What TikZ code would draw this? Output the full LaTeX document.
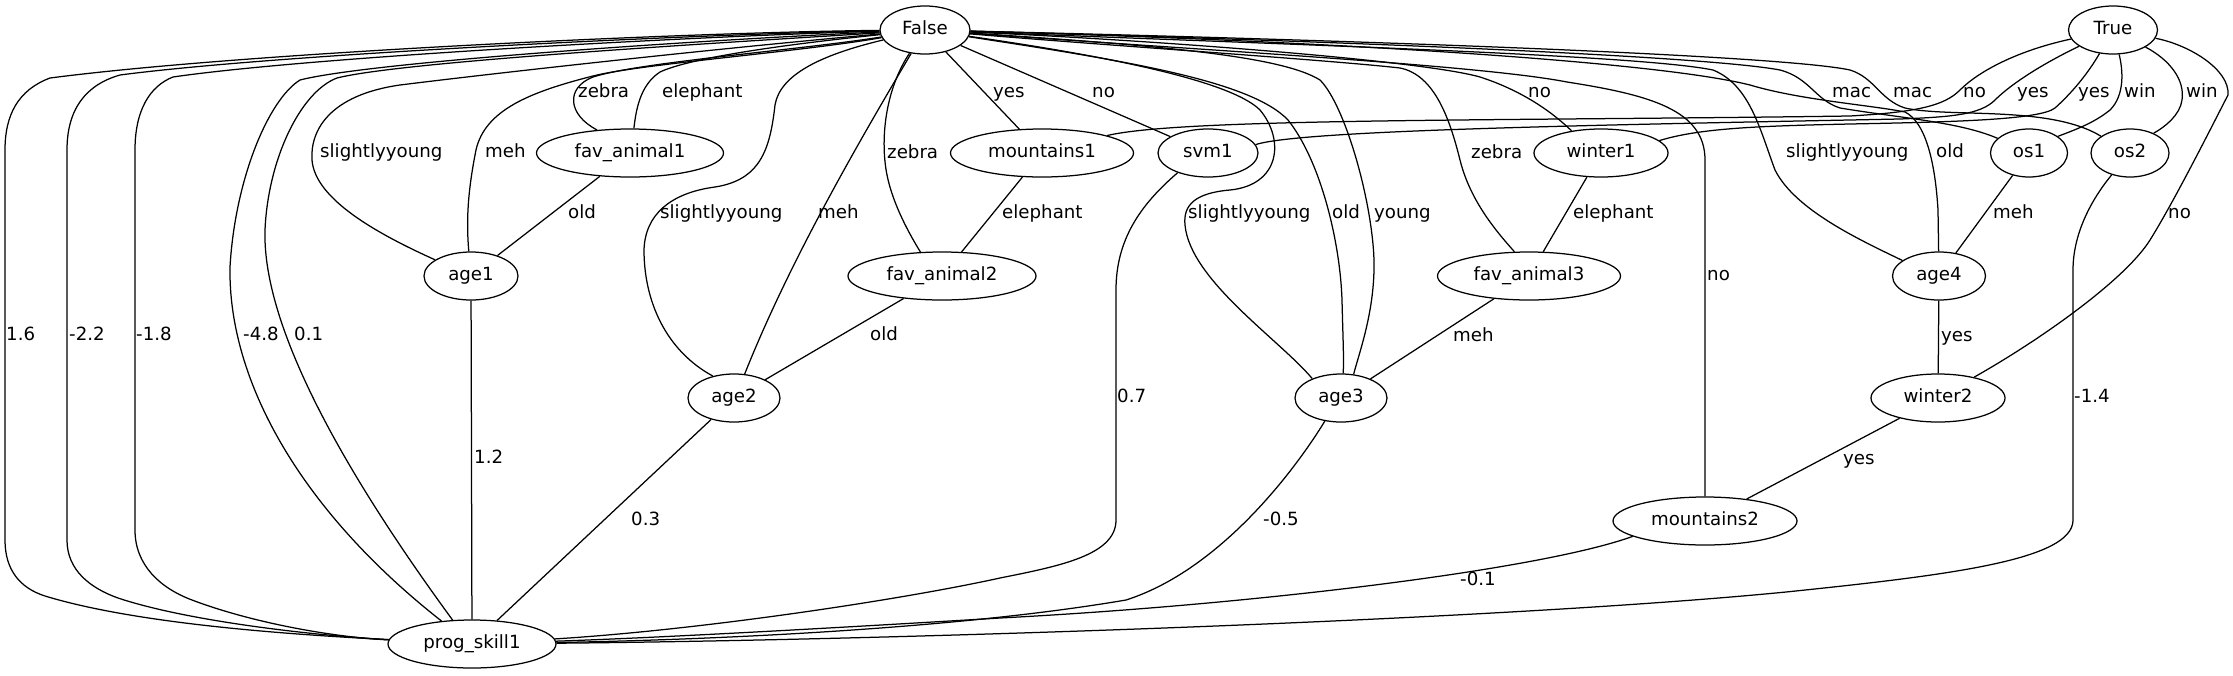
\documentclass[tikz,border=0pt]{standalone}
\usepackage{fontspec}
\setmainfont{DejaVu Sans}
\usetikzlibrary{shapes.geometric}
\tikzset{
  nd/.style={ellipse, draw, line width=1.25pt, minimum height=48pt, inner sep=0pt,
    font=\fontsize{18.2}{22}\selectfont, text height=13.5pt, text depth=4pt},
  lb/.style={anchor=west, inner sep=0pt, font=\fontsize{18.2}{22}\selectfont,
    text height=13.5pt, text depth=4pt},
  ed/.style={line width=1.25pt}
}
\begin{document}
\begin{tikzpicture}[x=1pt,y=-1pt]
\fill[white] (0,0) rectangle (2233,675);
\useasboundingbox (0,0) rectangle (2233,675);
% nodes
\node[nd, minimum width=90pt]  (F)   at (925,30)  {False};
\node[nd, minimum width=89pt]  (T)   at (2113,30) {True};
\node[nd, minimum width=187pt] (fa1) at (630,153) {fav\_animal1};
\node[nd, minimum width=183pt] (m1)  at (1042,153) {mountains1};
\node[nd, minimum width=100pt] (svm) at (1208,153) {svm1};
\node[nd, minimum width=134pt] (w1)  at (1601,153) {winter1};
\node[nd, minimum width=77pt]  (os1) at (2029,153) {os1};
\node[nd, minimum width=78pt]  (os2) at (2130,153) {os2};
\node[nd, minimum width=94pt]  (a1)  at (471,276) {age1};
\node[nd, minimum width=188pt] (fa2) at (942,276) {fav\_animal2};
\node[nd, minimum width=183pt] (fa3) at (1529,276) {fav\_animal3};
\node[nd, minimum width=93pt]  (a4)  at (1939,276) {age4};
\node[nd, minimum width=92pt]  (a2)  at (734,398) {age2};
\node[nd, minimum width=92pt]  (a3)  at (1341,398) {age3};
\node[nd, minimum width=134pt] (w2)  at (1938,398) {winter2};
\node[nd, minimum width=184pt] (m2)  at (1705,521) {mountains2};
\node[nd, minimum width=168pt] (ps)  at (472,644) {prog\_skill1};
% False -> prog_skill1
\draw[ed] (F) .. controls (700,32) and (250,52) .. (50,78) .. controls (18,90) and (5,115) .. (5,150) -- (5,540) .. controls (5,570) and (20,588) .. (45,596) .. controls (140,625) and (300,635) .. (ps);
\draw[ed] (F) .. controls (700,34) and (280,54) .. (120,75) .. controls (85,85) and (67,110) .. (67,150) -- (67,540) .. controls (67,570) and (90,588) .. (118,598) .. controls (190,622) and (320,636) .. (ps);
\draw[ed] (F) .. controls (700,36) and (310,57) .. (173,77) .. controls (150,86) and (135,110) .. (135,150) -- (135,530) .. controls (135,565) and (160,588) .. (192,600) .. controls (250,622) and (330,637) .. (ps);
\draw[ed] (F) .. controls (700,40) and (370,62) .. (300,80) .. controls (268,100) and (235,180) .. (230,267) .. controls (228,380) and (300,510) .. (ps.143);
\draw[ed] (F) .. controls (700,44) and (400,62) .. (337,78) .. controls (300,92) and (268,160) .. (265,230) .. controls (262,330) and (350,480) .. (ps.129);
% age1, fav_animal1
\draw[ed] (F) .. controls (700,50) and (480,75) .. (400,85) .. controls (330,95) and (310,130) .. (312,160) .. controls (315,200) and (380,235) .. (a1);
\draw[ed] (F) .. controls (800,52) and (640,64) .. (593,76) .. controls (530,92) and (485,110) .. (476,150) .. controls (468,190) and (466,220) .. (a1);
\draw[ed] (F) .. controls (800,50) and (640,62) .. (593,77) .. controls (565,88) and (568,115) .. (fa1.145);
\draw[ed] (F) .. controls (780,45) and (690,58) .. (660,72) .. controls (640,85) and (636,110) .. (fa1.81);
\draw[ed] (fa1) -- (a1);
\draw[ed] (a1) -- (ps);
% age2, fav_animal2
\draw[ed] (F) .. controls (820,55) and (780,75) .. (775,105) .. controls (770,150) and (760,180) .. (715,187) .. controls (670,193) and (645,215) .. (644,250) .. controls (644,300) and (665,350) .. (a2.134);
\draw[ed] (F) .. controls (860,140) and (790,260) .. (a2.66);
\draw[ed] (F) .. controls (885,90) and (880,140) .. (887,175) .. controls (893,205) and (910,235) .. (fa2.132);
\draw[ed] (F) -- (m1);
\draw[ed] (F) -- (svm);
\draw[ed] (m1) -- (fa2);
\draw[ed] (fa2) -- (a2);
\draw[ed] (a2) -- (ps);
\draw[ed] (svm.213) .. controls (1140,205) and (1116,240) .. (1116,290) -- (1116,520) .. controls (1116,555) and (1060,566) .. (1000,578) .. controls (900,600) and (700,630) .. (ps);
% age3
\draw[ed] (F) .. controls (1100,55) and (1230,80) .. (1260,110) .. controls (1285,140) and (1280,185) .. (1230,190) .. controls (1195,193) and (1183,205) .. (1185,225) .. controls (1190,280) and (1280,340) .. (a3.146);
\draw[ed] (F) .. controls (1120,60) and (1250,80) .. (1288,120) .. controls (1320,160) and (1340,240) .. (1342,300) .. controls (1343,340) and (1344,360) .. (a3.85);
\draw[ed] (F) .. controls (1150,45) and (1280,55) .. (1320,80) .. controls (1345,105) and (1372,200) .. (1374,260) .. controls (1375,310) and (1360,350) .. (a3.62);
\draw[ed] (fa3) -- (a3);
\draw[ed] (a3.235) .. controls (1295,470) and (1220,570) .. (1126,600) .. controls (950,630) and (700,640) .. (ps);
% fav_animal3, winter1
\draw[ed] (F) .. controls (1100,45) and (1330,60) .. (1400,68) .. controls (1435,75) and (1450,120) .. (1460,160) .. controls (1470,200) and (1495,230) .. (fa3.121);
\draw[ed] (F) .. controls (1150,40) and (1420,60) .. (1480,77) .. controls (1520,90) and (1550,110) .. (w1.143);
\draw[ed] (w1) -- (fa3);
% mountains2
\draw[ed] (F) .. controls (1200,50) and (1480,65) .. (1567,82) .. controls (1650,95) and (1705,110) .. (1705,160) -- (m2);
\draw[ed] (w2) -- (m2);
\draw[ed] (m2.192) .. controls (1540,570) and (1250,605) .. (1000,618) .. controls (800,630) and (650,638) .. (ps);
% age4
\draw[ed] (F) .. controls (1300,45) and (1640,55) .. (1713,70) .. controls (1750,85) and (1760,130) .. (1775,170) .. controls (1795,210) and (1860,240) .. (a4.157);
\draw[ed] (F) .. controls (1300,40) and (1650,60) .. (1750,85) .. controls (1800,100) and (1870,105) .. (1905,112) .. controls (1925,122) and (1935,160) .. (1938,210) -- (a4);
% os
\draw[ed] (F) .. controls (1300,40) and (1700,55) .. (1780,70) .. controls (1810,78) and (1815,100) .. (1840,108) .. controls (1900,118) and (1960,122) .. (os1.155);
\draw[ed] (F) .. controls (1350,40) and (1780,55) .. (1850,70) .. controls (1875,78) and (1880,100) .. (1905,108) .. controls (1950,118) and (2050,105) .. (os2.150);
% True
\draw[ed] (T) .. controls (2020,50) and (1980,70) .. (1960,90) .. controls (1945,105) and (1920,112) .. (1850,116) .. controls (1500,121) and (1180,118) .. (m1.15);
\draw[ed] (T) .. controls (2040,65) and (2010,85) .. (1995,100) .. controls (1980,115) and (1950,117) .. (1900,119) .. controls (1600,125) and (1300,130) .. (svm.10);
\draw[ed] (T) .. controls (2090,70) and (2075,90) .. (2055,108) .. controls (2040,120) and (1950,122) .. (1850,124) .. controls (1760,126) and (1700,128) .. (w1.12);
\draw[ed] (T) .. controls (2123,70) and (2125,95) .. (2110,110) .. controls (2095,122) and (2080,128) .. (os1.30);
\draw[ed] (T) .. controls (2170,60) and (2185,80) .. (2182,100) .. controls (2180,115) and (2165,127) .. (os2.40);
\draw[ed] (T) .. controls (2190,45) and (2230,70) .. (2228,95) .. controls (2215,120) and (2175,200) .. (2150,240) .. controls (2125,280) and (2040,340) .. (w2.30);
\draw[ed] (os1) -- (a4);
\draw[ed] (a4) -- (w2);
\draw[ed] (os2.230) .. controls (2095,195) and (2073,230) .. (2073,270) -- (2073,520) .. controls (2073,560) and (1950,575) .. (1786,592) .. controls (1500,620) and (900,640) .. (ps);
% labels
\node[lb] (l1)  at (6,336)    {1.6};
\node[lb] (l2)  at (69,336)   {-2.2};
\node[lb] (l3)  at (136,336)  {-1.8};
\node[lb] (l4)  at (243,336)  {-4.8};
\node[lb] (l5)  at (294,336)  {0.1};
\node[lb] (l6)  at (320,153)  {slightlyyoung};
\node[lb] (l7)  at (485,153)  {meh};
\node[lb] (l8)  at (578,93)   {zebra};
\node[lb] (l9)  at (662,93)   {elephant};
\node[lb] (l10) at (568,214)  {old};
\node[lb] (l11) at (474,459)  {1.2};
\node[lb] (l12) at (660,214)  {slightlyyoung};
\node[lb] (l13) at (818,214)  {meh};
\node[lb] (l14) at (887,154)  {zebra};
\node[lb] (l15) at (993,93)   {yes};
\node[lb] (l16) at (1092,93)  {no};
\node[lb] (l17) at (1002,214) {elephant};
\node[lb] (l18) at (870,336)  {old};
\node[lb] (l19) at (631,521)  {0.3};
\node[lb] (l20) at (1117,398) {0.7};
\node[lb] (l21) at (1188,214) {slightlyyoung};
\node[lb] (l22) at (1332,214) {old};
\node[lb] (l23) at (1374,214) {young};
\node[lb] (l24) at (1471,154) {zebra};
\node[lb] (l25) at (1528,93)  {no};
\node[lb] (l26) at (1573,214) {elephant};
\node[lb] (l27) at (1453,337) {meh};
\node[lb] (l28) at (1263,521) {-0.5};
\node[lb] (l29) at (1707,276) {no};
\node[lb] (l30) at (1786,153) {slightlyyoung};
\node[lb] (l31) at (1936,153) {old};
\node[lb] (l32) at (1832,93)  {mac};
\node[lb] (l33) at (1893,93)  {mac};
\node[lb] (l34) at (1963,93)  {no};
\node[lb] (l35) at (2017,93)  {yes};
\node[lb] (l36) at (2078,93)  {yes};
\node[lb] (l37) at (2124,93)  {win};
\node[lb] (l38) at (2186,93)  {win};
\node[lb] (l39) at (2168,214) {no};
\node[lb] (l40) at (1993,214) {meh};
\node[lb] (l41) at (2074,398) {-1.4};
\node[lb] (l42) at (1941,337) {yes};
\node[lb] (l43) at (1843,460) {yes};
\node[lb] (l44) at (1460,581) {-0.1};
\end{tikzpicture}
\end{document}
